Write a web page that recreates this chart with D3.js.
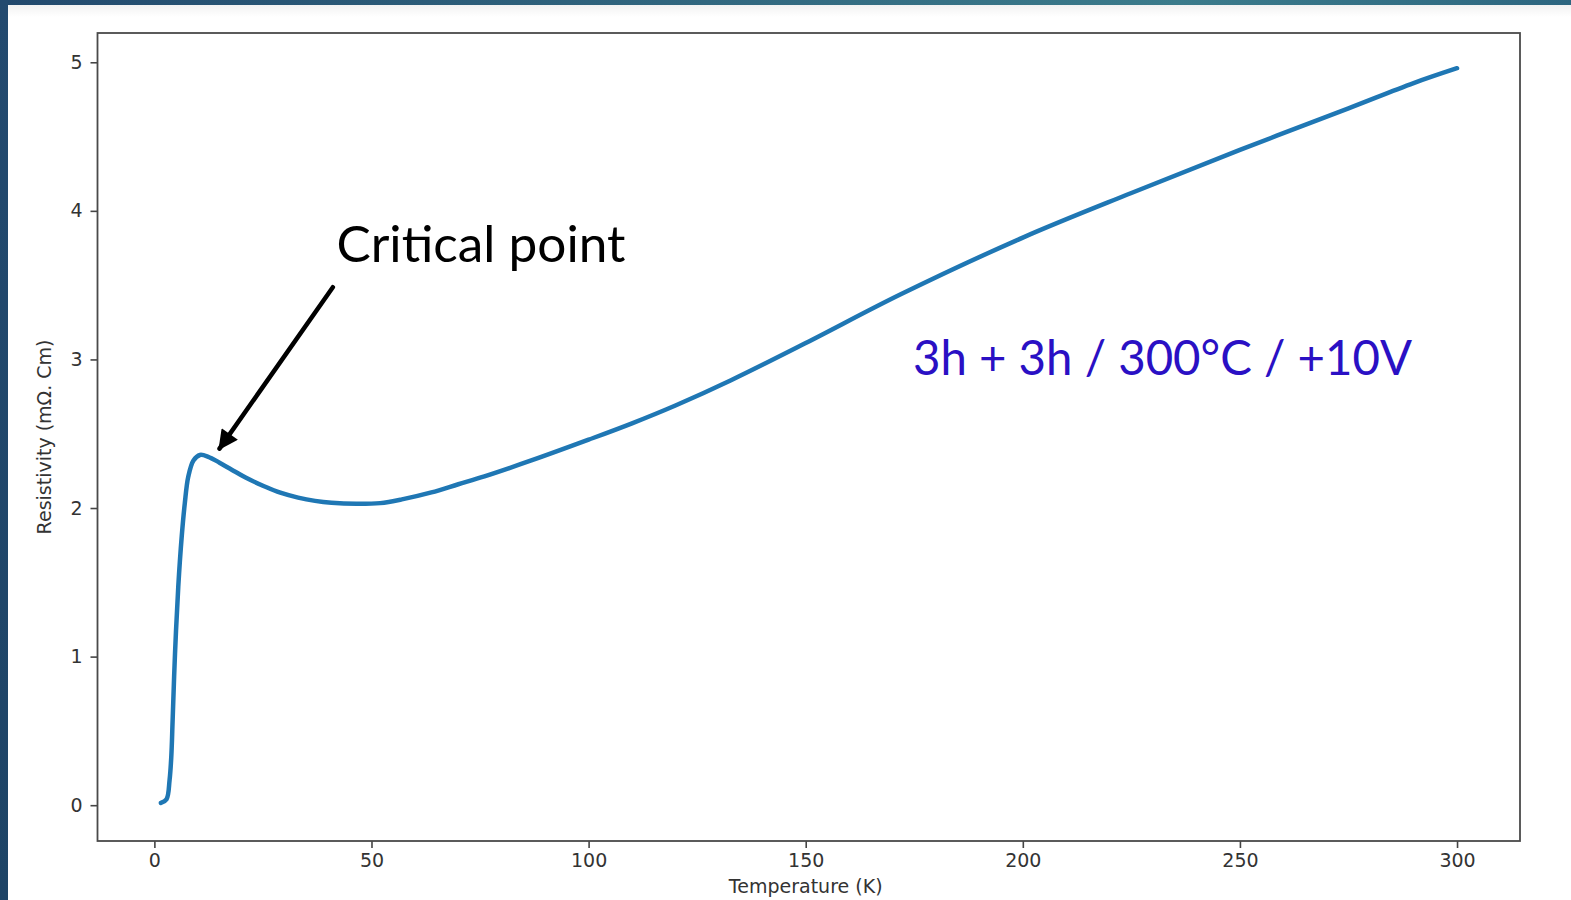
<!DOCTYPE html>
<html>
<head>
<meta charset="utf-8">
<script src="https://cdn.jsdelivr.net/npm/d3@7"></script>
<style>
  html, body { margin: 0; padding: 0; overflow: hidden; }
  .tickText { font-family: "DejaVu Sans", sans-serif; font-size: 19px; fill: #333; }
  .axisText { font-family: "DejaVu Sans", sans-serif; font-size: 19px; fill: #333; }
</style>
</head>
<body>
<div id="scatter"></div>
<script>
// Temperature (K) and resistivity (mOhm.cm)
var temperature = [1.5, 2.8, 3.5, 3.9, 4.2, 4.75, 5.5, 6.3, 7.0, 7.8, 9.0, 10.5, 12.4, 15, 17.8, 21, 25.4, 29, 33.1, 37, 40.8,
  46.5, 52, 57, 63.8, 70, 76, 86.8, 100, 110, 120, 132.8, 150, 172, 200, 225, 250, 275, 290, 300];
var resistivity = [0.015, 0.04, 0.17, 0.33, 0.57, 1.02, 1.47, 1.81, 2.03, 2.21, 2.32, 2.357, 2.345, 2.305, 2.258, 2.205, 2.145, 2.103, 2.07, 2.048, 2.035,
  2.028, 2.033, 2.058, 2.105, 2.16, 2.213, 2.32, 2.46, 2.57, 2.69, 2.86, 3.11, 3.44, 3.82, 4.12, 4.41, 4.69, 4.86, 4.96];
var xTicks = [0, 50, 100, 150, 200, 250, 300];
var yTicks = [0, 1, 2, 3, 4, 5];

var svgWidth = 1571;
var svgHeight = 900;

// plot box in page pixels
var margin = { top: 33, right: 51, bottom: 59, left: 97.5 };
var width = svgWidth - margin.left - margin.right;
var height = svgHeight - margin.top - margin.bottom;

var svg = d3.select("#scatter")
  .append("svg")
  .attr("width", svgWidth)
  .attr("height", svgHeight);

// slide frame: dark blue strips at top and left
var defs = svg.append("defs");
var topGrad = defs.append("linearGradient").attr("id", "topGrad");
topGrad.append("stop").attr("offset", "0%").attr("stop-color", "#22496d");
topGrad.append("stop").attr("offset", "75%").attr("stop-color", "#3b7b8b");
topGrad.append("stop").attr("offset", "100%").attr("stop-color", "#2d6680");
var sideGrad = defs.append("linearGradient").attr("id", "sideGrad")
  .attr("x1", 0).attr("y1", 0).attr("x2", 0).attr("y2", 1);
sideGrad.append("stop").attr("offset", "0%").attr("stop-color", "#234a6f");
sideGrad.append("stop").attr("offset", "100%").attr("stop-color", "#1e4466");
var shade = defs.append("linearGradient").attr("id", "shade")
  .attr("x1", 0).attr("y1", 0).attr("x2", 0).attr("y2", 1);
shade.append("stop").attr("offset", "0%").attr("stop-color", "#f2f2f2");
shade.append("stop").attr("offset", "100%").attr("stop-color", "#ffffff");

svg.append("rect").attr("width", svgWidth).attr("height", svgHeight).attr("fill", "#fff");
svg.append("rect").attr("x", 0).attr("y", 5).attr("width", svgWidth).attr("height", 12).attr("fill", "url(#shade)");
svg.append("rect").attr("width", svgWidth).attr("height", 5).attr("fill", "url(#topGrad)");
svg.append("rect").attr("width", 8).attr("height", svgHeight).attr("fill", "url(#sideGrad)");

var chartGroup = svg.append("g")
  .attr("transform", `translate(${margin.left}, ${margin.top})`);

// Step 1: scales (matplotlib style 5% padding)
var xLinearScale = d3.scaleLinear()
  .domain([-13.1, 314.5])
  .range([0, width]);

var yLinearScale = d3.scaleLinear()
  .domain([-0.241, 5.197])
  .range([height, 0]);

// Step 2: axes
var bottomAxis = d3.axisBottom(xLinearScale).tickValues(xTicks).tickSize(7).tickPadding(6);
var leftAxis = d3.axisLeft(yLinearScale).tickValues(yTicks).tickFormat(d3.format("d")).tickSize(7).tickPadding(8);

var xAxisG = chartGroup.append("g")
  .attr("transform", `translate(0, ${height})`)
  .call(bottomAxis);

var yAxisG = chartGroup.append("g")
  .call(leftAxis);

[xAxisG, yAxisG].forEach(function(g) {
  g.select(".domain").remove();
  g.selectAll(".tick line").attr("stroke", "#444").attr("stroke-width", 1.6);
  g.selectAll(".tick text").attr("class", "tickText").attr("fill", null);
});

// box around the plot
chartGroup.append("rect")
  .attr("width", width)
  .attr("height", height)
  .attr("fill", "none")
  .attr("stroke", "#4a4a4a")
  .attr("stroke-width", 1.8);

// Step 3: the curve
var points = temperature.map(function(t, i) { return [t, resistivity[i]]; });
var line = d3.line()
  .x(d => xLinearScale(d[0]))
  .y(d => yLinearScale(d[1]))
  .curve(d3.curveCatmullRom.alpha(0.5));

chartGroup.append("path")
  .datum(points)
  .attr("d", line)
  .attr("fill", "none")
  .attr("stroke", "#1f77b4")
  .attr("stroke-width", 4.5)
  .attr("stroke-linecap", "round")
  .attr("stroke-linejoin", "round");

// Step 4: axis labels
chartGroup.append("text")
  .attr("transform", "rotate(-90)")
  .attr("x", 0 - (height / 2))
  .attr("y", 0 - margin.left + 51)
  .attr("text-anchor", "middle")
  .attr("class", "axisText")
  .text("Resistivity (mΩ. Cm)");

chartGroup.append("text")
  .attr("x", xLinearScale(150))
  .attr("y", height + 52)
  .attr("text-anchor", "middle")
  .attr("class", "axisText")
  .text("Temperature (K)");

// Step 5: annotations
defs.append("marker")
  .attr("id", "head")
  .attr("viewBox", "0 0 10 10")
  .attr("refX", 9).attr("refY", 5)
  .attr("markerWidth", 5).attr("markerHeight", 4.4)
  .attr("markerUnits", "strokeWidth")
  .attr("orient", "auto")
  .append("path")
  .attr("d", "M0,0 L10,5 L0,10 Z")
  .attr("fill", "#000");

chartGroup.append("line")
  .attr("x1", xLinearScale(41.1)).attr("y1", yLinearScale(3.486))
  .attr("x2", xLinearScale(15.0)).attr("y2", yLinearScale(2.40))
  .attr("stroke", "#000")
  .attr("stroke-width", 4.5)
  .attr("stroke-linecap", "round")
  .attr("marker-end", "url(#head)");

chartGroup.append("text")
  .attr("x", 336.5 - margin.left)
  .attr("y", 262 - margin.top)
  .attr("textLength", 289)
  .attr("lengthAdjust", "spacingAndGlyphs")
  .style("font-family", "Lato, sans-serif")
  .style("font-size", "51px")
  .attr("fill", "#000")
  .text("Critical point");

chartGroup.append("text")
  .attr("x", 913 - margin.left)
  .attr("y", 375 - margin.top)
  .attr("textLength", 499)
  .attr("lengthAdjust", "spacingAndGlyphs")
  .style("font-family", "Lato, sans-serif")
  .style("font-size", "48px")
  .attr("fill", "#2a10c4")
  .text("3h + 3h / 300°C / +10V");
</script>
</body>
</html>
